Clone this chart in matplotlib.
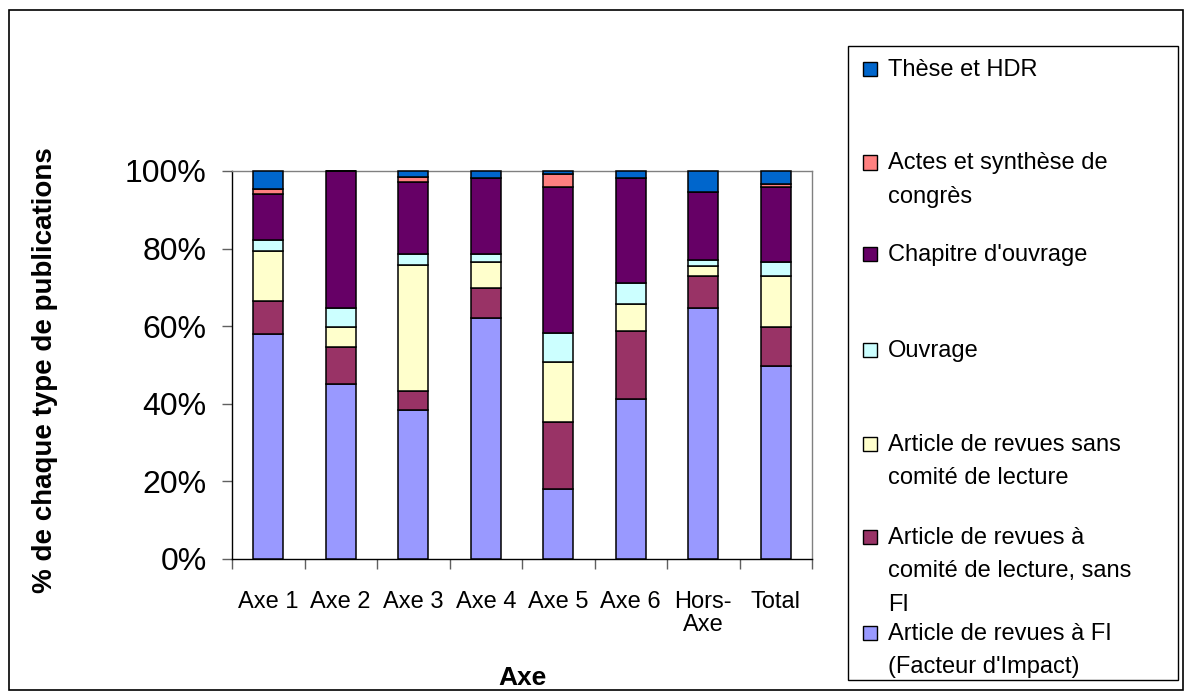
import numpy as np
import matplotlib
matplotlib.use("Agg")
import matplotlib.pyplot as plt
from matplotlib.patches import Rectangle

plt.rcParams['font.family'] = ['Liberation Sans', 'DejaVu Sans']

# categories and series (percent of publications), bottom to top
categories = ["Axe 1", "Axe 2", "Axe 3", "Axe 4", "Axe 5", "Axe 6", "Hors-\nAxe", "Total"]
fi = [58.0, 45.1, 38.3, 62.0, 18.1, 41.2, 64.8, 49.8]
comite = [8.6, 9.6, 5.1, 7.9, 17.1, 17.6, 8.1, 10.1]
sans_comite = [12.8, 5.2, 32.4, 6.7, 15.5, 6.9, 2.7, 13.0]
ouvrage = [2.7, 4.9, 2.7, 1.9, 7.6, 5.5, 1.4, 3.7]
chapitre = [12.0, 35.2, 18.7, 19.6, 37.5, 26.9, 17.5, 19.3]
actes = [1.2, 0.0, 1.3, 0.0, 3.3, 0.0, 0.0, 0.8]
these = [4.7, 0.0, 1.5, 1.9, 0.9, 1.9, 5.5, 3.3]

series = [
    ("Article de revues à FI\n(Facteur d'Impact)", fi, "#9999FF"),
    ("Article de revues à\ncomité de lecture, sans\nFI", comite, "#993366"),
    ("Article de revues sans\ncomité de lecture", sans_comite, "#FFFFCC"),
    ("Ouvrage", ouvrage, "#CCFFFF"),
    ("Chapitre d'ouvrage", chapitre, "#660066"),
    ("Actes et synthèse de\ncongrès", actes, "#FF8080"),
    ("Thèse et HDR", these, "#0066CC"),
]

W, H = 1192, 699
fig = plt.figure(figsize=(W / 100, H / 100), dpi=100)

# plot area in pixels
left, right, top, bottom = 232, 812, 171, 559
ax = fig.add_axes([left / W, 1 - bottom / H, (right - left) / W, (bottom - top) / H])

x = np.arange(len(categories))
base = np.zeros(len(categories))
for name, vals, col in series:
    vals = np.array(vals)
    ax.bar(x, vals, width=0.41, bottom=base, color=col, edgecolor="black",
           linewidth=1.1, clip_on=False, zorder=3)
    base += vals

ax.set_xlim(-0.5, len(categories) - 0.5)
ax.set_ylim(0, 100)
ax.set_yticks([0, 20, 40, 60, 80, 100])
ax.set_yticklabels([f"{v}%" for v in [0, 20, 40, 60, 80, 100]], fontsize=23)
ax.set_xticks(x)
ax.set_xticklabels(categories, fontsize=17, linespacing=1.05)
ax.set_xticks(np.arange(len(categories) + 1) - 0.5, minor=True)
ax.tick_params(axis="x", which="major", length=0, pad=23)
ax.tick_params(axis="x", which="minor", length=7, width=1, direction="out",
               color="#606060")
ax.tick_params(axis="y", length=7.2, width=1, direction="out", pad=11,
               color="#606060")

for s in ["top", "right"]:
    ax.spines[s].set_color("#808080")
    ax.spines[s].set_linewidth(1)
for s in ["left", "bottom"]:
    ax.spines[s].set_color("black")
    ax.spines[s].set_linewidth(1)

fig.text(45 / W, 1 - 370 / H, "% de chaque type de publications", rotation=90,
         fontsize=20, fontweight="bold", ha="center", va="center")
fig.text(522 / W, 1 - 678 / H, "Axe", fontsize=19, fontweight="bold",
         ha="center", va="center")

# outer chart border
fig.patches.append(Rectangle((9 / W, 1 - 690 / H), (1183 - 9) / W, (690 - 10) / H,
                             transform=fig.transFigure, fill=False,
                             edgecolor="black", linewidth=1.2))

# legend box, drawn by hand like the Excel layout
fig.patches.append(Rectangle((848 / W, 1 - 680 / H), (1178 - 848) / W, (680 - 46) / H,
                             transform=fig.transFigure, fill=False,
                             edgecolor="black", linewidth=1))
legend_baselines = [76, 169.5, 261, 357, 451, 544, 640]
line_step = 33.5
for (name, vals, col), yb in zip(series[::-1], legend_baselines):
    fig.patches.append(Rectangle((863 / W, 1 - yb / H), 14 / W, 14 / H,
                                 transform=fig.transFigure, facecolor=col,
                                 edgecolor="black", linewidth=1))
    for i, line in enumerate(name.split("\n")):
        fig.text(888 / W, 1 - (yb + i * line_step) / H, line, fontsize=17,
                 ha="left", va="baseline")

fig.savefig("out.png", dpi=100)
